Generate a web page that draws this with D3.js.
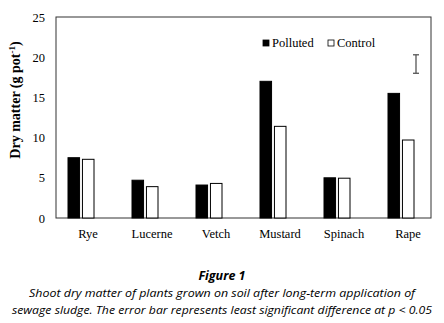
<!DOCTYPE html>
<html>
<head>
<meta charset="utf-8">
<script src="https://cdn.jsdelivr.net/npm/d3@7/dist/d3.min.js"></script>
<style>
  body { margin: 0; background: #fff; }
  svg text { fill: #000; }
  .serif, .tick text { font-family: "Liberation Serif", "Times New Roman", serif !important; }
  .tick text { font-size: 12.5px; }
  .caption { font-family: "Open Sans", "Noto Sans", sans-serif; font-style: italic; }
</style>
</head>
<body>
<div id="chart"></div>
<script>
const categories = ["Rye", "Lucerne", "Vetch", "Mustard", "Spinach", "Rape"];
const seriesNames = ["Polluted", "Control"];
const polluted = [7.5, 4.7, 4.1, 17.0, 5.0, 15.5];
const control = [7.3, 3.9, 4.3, 11.4, 4.95, 9.7];
const yTicks = [0, 5, 10, 15, 20, 25];
const lsd = [18.0, 20.3];

const W = 444, H = 323;
const margin = {top: 17, right: 13, bottom: 105, left: 56};
const width = W - margin.left - margin.right;
const height = H - margin.top - margin.bottom;

const svg = d3.select("#chart").append("svg")
  .attr("width", W)
  .attr("height", H);

const g = svg.append("g")
  .attr("transform", "translate(" + margin.left + "," + margin.top + ")");

// the labels sit a little right of their bars in the original
const xLab = d3.scaleBand().domain(categories).range([0, 384]);
const x = d3.scaleBand().domain(categories).range([-7, 377]);
const x1 = d3.scaleBand().domain(seriesNames)
  .range([x.bandwidth() / 2 - 13, x.bandwidth() / 2 + 13]).paddingInner(0.2);
const y = d3.scaleLinear().domain([0, 25]).range([height, 0]);

// frame
g.append("rect")
  .attr("width", width).attr("height", height)
  .attr("fill", "none").attr("stroke", "#333").attr("stroke-width", 1);

// y axis
const yAxis = g.append("g")
  .call(d3.axisLeft(y).tickValues(yTicks).tickSize(0).tickPadding(11));
yAxis.select(".domain").remove();

// x axis
const xAxis = g.append("g")
  .attr("transform", "translate(0," + height + ")")
  .call(d3.axisBottom(xLab).tickSize(0).tickPadding(11));
xAxis.select(".domain").remove();

// y label
svg.append("text")
  .attr("class", "serif")
  .attr("transform", "translate(20," + (margin.top + 83) + ") rotate(-90)")
  .attr("text-anchor", "middle")
  .attr("font-weight", "bold")
  .attr("font-size", "14px")
  .html('Dry matter (g pot<tspan baseline-shift="super" font-size="9px">-1</tspan>)');

// bars
const rows = categories.map((c, i) => ({cat: c, vals: [
  {s: "Polluted", v: polluted[i]},
  {s: "Control", v: control[i]}
]}));

const groups = g.selectAll(".grp").data(rows).enter().append("g")
  .attr("transform", d => "translate(" + x(d.cat) + ",0)");

groups.selectAll("rect").data(d => d.vals).enter().append("rect")
  .attr("x", d => x1(d.s))
  .attr("width", x1.bandwidth())
  .attr("y", d => y(d.v))
  .attr("height", d => height - y(d.v))
  .attr("fill", d => d.s === "Polluted" ? "#000" : "#fff")
  .attr("stroke", "#000")
  .attr("stroke-width", 1);

// LSD error bar
const ex = 360;
const eb = g.append("g").attr("stroke", "#555").attr("stroke-width", 1.3);
eb.append("line").attr("x1", ex).attr("x2", ex).attr("y1", y(lsd[0])).attr("y2", y(lsd[1]));
eb.append("line").attr("x1", ex - 3).attr("x2", ex + 3).attr("y1", y(lsd[0])).attr("y2", y(lsd[0]));
eb.append("line").attr("x1", ex - 3).attr("x2", ex + 3).attr("y1", y(lsd[1])).attr("y2", y(lsd[1]));

// legend
const legend = g.append("g").attr("transform", "translate(207,23)");
seriesNames.forEach((s, i) => {
  const lg = legend.append("g").attr("transform", "translate(" + (i * 65) + ",0)");
  lg.append("rect").attr("width", 6).attr("height", 6)
    .attr("fill", i === 0 ? "#000" : "#fff").attr("stroke", "#000").attr("stroke-width", 0.8);
  lg.append("text").attr("class", "serif").attr("x", 9).attr("y", 6.5)
    .attr("font-size", "12.5px")
    .text(s);
});

// caption
svg.append("text").attr("class", "caption")
  .attr("x", 222).attr("y", 280).attr("text-anchor", "middle")
  .attr("font-weight", "bold").attr("font-size", "12.5px")
  .text("Figure 1");
svg.append("text").attr("class", "caption")
  .attr("x", 222).attr("y", 297).attr("text-anchor", "middle")
  .attr("font-size", "11.5px")
  .attr("textLength", 386).attr("lengthAdjust", "spacingAndGlyphs")
  .text("Shoot dry matter of plants grown on soil after long-term application of");
svg.append("text").attr("class", "caption")
  .attr("x", 222).attr("y", 314).attr("text-anchor", "middle")
  .attr("font-size", "11.5px")
  .attr("textLength", 420).attr("lengthAdjust", "spacingAndGlyphs")
  .text("sewage sludge. The error bar represents least significant difference at p < 0.05");
</script>
</body>
</html>
